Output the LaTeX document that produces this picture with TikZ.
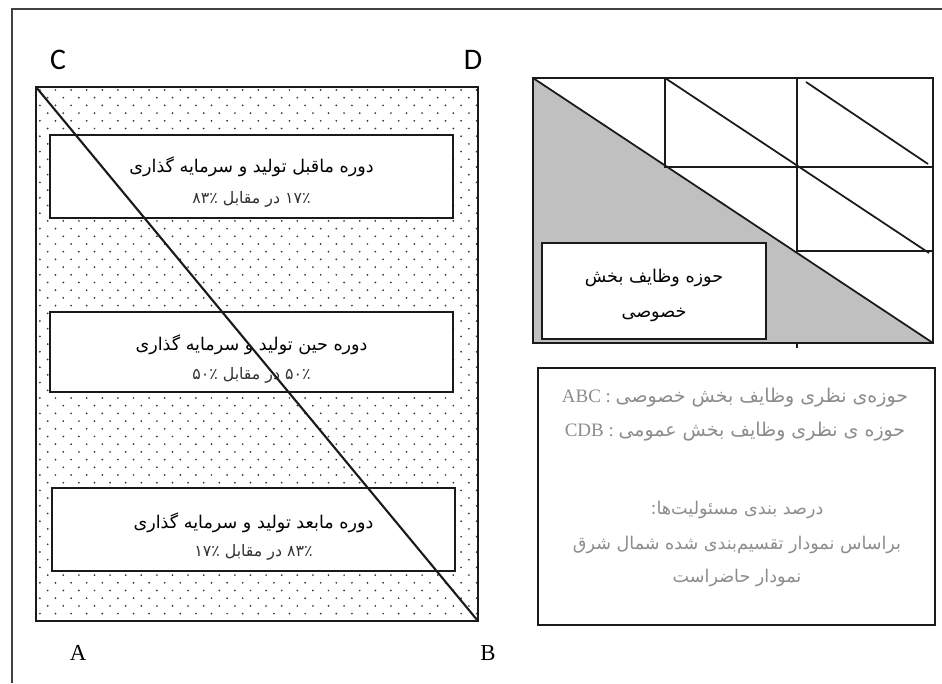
\documentclass[tikz,border=0pt]{standalone}
\usepackage{fontspec}
\usepackage{tikz}
\usetikzlibrary{positioning, calc}
\setmainfont{Liberation Serif}
\newfontfamily\fa[Script=Arabic]{DejaVu Sans}
\newfontfamily\lbl{Carlito}
\TeXXeTstate=1
\definecolor{framecol}{HTML}{1a1a1a}
\definecolor{shadecol}{HTML}{c0c0c0}
\definecolor{dotcol}{HTML}{333333}
\definecolor{legendtxt}{HTML}{8c8c8c}

\begin{document}
\begin{tikzpicture}[x=0.02cm, y=-0.02cm, every node/.style={inner sep=0pt}]
\tikzstyle{bx}=[draw=framecol, line width=1.2pt, fill=white, align=center]
\tikzstyle{ln}=[draw=framecol, line width=1pt]
\tikzstyle{ttl}=[font=\fa\fontsize{10}{12}\selectfont]
\tikzstyle{pct}=[font=\fa\fontsize{9}{11}\selectfont, text=black!80]
\useasboundingbox (0,0) rectangle (942,683);

% outer frame, cut off at right and bottom
\coordinate (fa) at (12,683);
\coordinate (fb) at (12,9);
\coordinate (fc) at (942,9);
\draw[ln, draw=black!75] (fa) -- (fb) -- (fc);

% left panel
\coordinate (C) at (36,87);
\coordinate (D) at (478,87);
\coordinate (A) at (36,621);
\coordinate (B) at (478,621);
\begin{scope}
\clip (C) rectangle (B);
\foreach \r in {0,...,70}
  \foreach \c in {0,...,29}
    \fill[dotcol] ({36+3.9+7.8*(2*\c+mod(\r,2))}, {87+3+7.7*\r}) circle[radius=0.55pt];
\end{scope}
\draw[ln, line width=1.2pt] (C) rectangle (B);

\node[bx, minimum width=8.06cm, minimum height=1.66cm](pre) at (251.5,176.5) {};
\node[ttl](pret) at (251.5,167) {\beginR دوره ماقبل تولید و سرمایه گذاری\endR};
\node[pct](prep) at (251.5,199) {\beginR ۱۷٪ در مقابل ۸۳٪\endR};

\node[bx, minimum width=8.06cm, minimum height=1.6cm](dur) at (251.5,352) {};
\node[ttl](durt) at (251.5,345) {\beginR دوره حین تولید و سرمایه گذاری\endR};
\node[pct](durp) at (251.5,375) {\beginR ۵۰٪ در مقابل ۵۰٪\endR};

\node[bx, minimum width=8.06cm, minimum height=1.66cm](post) at (253.5,529.5) {};
\node[ttl](postt) at (253.5,523) {\beginR دوره مابعد تولید و سرمایه گذاری\endR};
\node[pct](postp) at (253.5,552) {\beginR ۸۳٪ در مقابل ۱۷٪\endR};

\draw[ln, line width=1.2pt] (C) -- (B);

\node[font=\lbl\fontsize{17}{20}\selectfont](lc) at (58,60) {C};
\node[font=\lbl\fontsize{17}{20}\selectfont](ld) at (473,60) {D};
\node[font=\fontsize{13}{15}\selectfont](la) at (78,653) {A};
\node[font=\fontsize{13}{15}\selectfont](lb) at (488,653) {B};

% right panel, upper grid
\coordinate (r1) at (533,78);
\coordinate (r2) at (933,78);
\coordinate (r3) at (533,343);
\coordinate (r4) at (933,343);
\fill[shadecol] (r1) -- (r3) -- (r4) -- cycle;
\draw[ln] (r1) rectangle (r4);
\draw[ln] (665,78) -- (665,167) -- (933,167);
\draw[ln] (797,78) -- (797,251) -- (933,251);
\draw[ln] (797,343) -- (797,348);
\draw[ln] (r1) -- (r4);
\draw[ln] (665,78) -- (929,253);
\draw[ln] (806,82) -- (928,164);

\node[bx, minimum width=4.48cm, minimum height=1.92cm](priv) at (654,291) {};
\node[ttl](privt) at (654,278) {\beginR حوزه وظایف بخش\endR};
\node[ttl](privt2) at (654,315) {\beginR خصوصی\endR};

% legend
\draw[ln] (538,368) rectangle (935,625);
\tikzstyle{lg}=[text=legendtxt, font=\fontsize{10.8}{13}\selectfont]
\node[lg](l1) at (735,398) {ABC : {\fa\beginR حوزه‌ی نظری وظایف بخش خصوصی\endR}};
\node[lg](l2) at (735,432) {CDB : {\fa\beginR حوزه ی نظری وظایف بخش عمومی\endR}};
\node[lg, font=\fa\fontsize{10}{12}\selectfont](l3) at (737,510) {\beginR درصد بندی مسئولیت‌ها:\endR};
\node[lg, font=\fa\fontsize{10}{12}\selectfont](l4) at (737,545) {\beginR براساس نمودار تقسیم‌بندی شده شمال شرق\endR};
\node[lg, font=\fa\fontsize{10}{12}\selectfont](l5) at (737,578) {\beginR نمودار حاضراست\endR};
\end{tikzpicture}
\end{document}
